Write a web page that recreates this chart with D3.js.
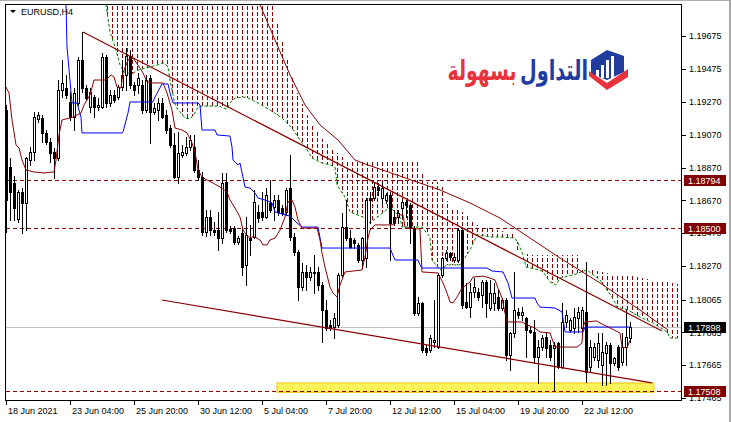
<!DOCTYPE html>
<html><head><meta charset="utf-8">
<script src="https://cdn.jsdelivr.net/npm/d3@7"></script>
<style>html,body{margin:0;padding:0;background:#fff;overflow:hidden}svg{display:block}</style>
</head><body><svg id="c" width="731" height="422"></svg>
<script>
// ---- DATA (EURUSD H4) ----
const open = [
1.19222,1.18874,1.18777,1.18557,1.18722,1.18655,1.18917,1.18966,1.19167,1.19173,
1.19082,1.19027,1.18966,1.18929,1.19344,1.19356,1.19271,1.19179,1.19265,1.19527,
1.19356,1.19240,1.19301,1.19240,1.19240,1.19545,1.19265,1.19314,1.19301,1.19362,
1.19436,1.19551,1.19375,1.19375,1.19375,1.19222,1.19417,1.19210,1.19222,1.19265,
1.19192,1.19112,1.19009,1.18813,1.18948,1.18960,1.18996,1.18996,1.18856,1.18813,
1.18478,1.18569,1.18490,1.18490,1.18441,1.18783,1.18496,1.18502,1.18417,1.18472,
1.18277,1.18441,1.18447,1.18600,1.18600,1.18569,1.18655,1.18630,1.18673,1.18624,
1.18600,1.18746,1.18447,1.18356,1.18142,1.18234,1.18203,1.18228,1.18234,1.18155,
1.18002,1.17911,1.17898,1.17911,1.18216,1.18508,1.18441,1.18429,1.18399,1.18307,
1.18319,1.18685,1.18685,1.18752,1.18685,1.18673,1.18704,1.18569,1.18569,1.18624,
1.18661,1.18643,1.18502,1.17984,1.18045,1.17770,1.17758,1.17807,1.17776,1.18216,
1.18319,1.18350,1.18307,1.18307,1.18490,1.18051,1.18020,1.18112,1.18112,1.18094,
1.18173,1.18014,1.18045,1.18081,1.18014,1.18063,1.17728,1.17862,1.17990,1.17972,
1.17953,1.17880,1.17868,1.17715,1.17776,1.17837,1.17789,1.17770,1.17801,1.17654,
1.17929,1.17880,1.17892,1.17953,1.17892,1.17990,1.17654,1.17715,1.17697,1.17667,
1.17740,1.17789,1.17679,1.17776,1.17685,1.17776,1.17831];
const high = [
1.19253,1.18929,1.18819,1.18734,1.18746,1.18935,1.18996,1.19210,1.19210,1.19192,
1.19100,1.19051,1.18990,1.19405,1.19527,1.19436,1.19332,1.19356,1.19545,1.19698,
1.19375,1.19356,1.19314,1.19295,1.19570,1.19558,1.19344,1.19344,1.19375,1.19527,
1.19600,1.19588,1.19393,1.19448,1.19405,1.19436,1.19436,1.19265,1.19295,1.19295,
1.19222,1.19131,1.19082,1.19088,1.19009,1.19057,1.19070,1.19070,1.18917,1.18844,
1.18612,1.18612,1.18539,1.18600,1.18838,1.18838,1.18514,1.18514,1.18453,1.18502,
1.18569,1.18521,1.18734,1.18643,1.18722,1.18746,1.18795,1.18704,1.18704,1.18643,
1.18746,1.18948,1.18472,1.18368,1.18289,1.18277,1.18264,1.18338,1.18264,1.18173,
1.18063,1.17941,1.17984,1.18228,1.18594,1.18673,1.18490,1.18441,1.18411,1.18447,
1.18685,1.18722,1.18777,1.18777,1.18777,1.18716,1.18722,1.18612,1.18612,1.18673,
1.18673,1.18655,1.18514,1.18081,1.18051,1.17789,1.17850,1.18063,1.18228,1.18325,
1.18368,1.18356,1.18350,1.18502,1.18502,1.18167,1.18167,1.18197,1.18136,1.18185,
1.18185,1.18185,1.18167,1.18124,1.18075,1.18075,1.17868,1.18234,1.18014,1.18020,
1.17959,1.17898,1.17941,1.17819,1.17850,1.17862,1.17819,1.17807,1.17807,1.18045,
1.18002,1.17953,1.18014,1.18020,1.18020,1.18295,1.17819,1.17801,1.17862,1.17862,
1.17807,1.17801,1.17715,1.17789,1.17862,1.18002,1.17929];
const low = [
1.18478,1.18551,1.18551,1.18539,1.18472,1.18490,1.18887,1.18917,1.19149,1.19027,
1.19015,1.18905,1.18807,1.18917,1.19301,1.19295,1.19161,1.19100,1.19253,1.19332,
1.19283,1.19210,1.19179,1.19222,1.19234,1.19240,1.19246,1.19271,1.19289,1.19344,
1.19344,1.19356,1.19314,1.19326,1.19204,1.19210,1.19021,1.19198,1.19161,1.19173,
1.19082,1.18996,1.18807,1.18777,1.18935,1.18948,1.18978,1.18844,1.18795,1.18460,
1.18453,1.18460,1.18460,1.18368,1.18411,1.18478,1.18472,1.18405,1.18405,1.18216,
1.18155,1.18338,1.18441,1.18539,1.18551,1.18563,1.18600,1.18551,1.18582,1.18582,
1.18582,1.18429,1.18338,1.18063,1.18124,1.18124,1.18185,1.18106,1.18124,1.17807,
1.17880,1.17880,1.17831,1.17898,1.18203,1.18429,1.18380,1.18380,1.18295,1.18258,
1.18264,1.18533,1.18673,1.18704,1.18643,1.18655,1.18307,1.18521,1.18533,1.18569,
1.18569,1.18411,1.17972,1.17972,1.17746,1.17728,1.17746,1.17776,1.17770,1.18203,
1.18307,1.18307,1.18295,1.18295,1.18014,1.18014,1.17959,1.18081,1.18063,1.18020,
1.17959,1.18002,1.18002,1.18002,1.18002,1.17697,1.17636,1.17837,1.17953,1.17941,
1.17715,1.17862,1.17679,1.17557,1.17758,1.17715,1.17697,1.17514,1.17648,1.17648,
1.17898,1.17868,1.17862,1.17868,1.17862,1.17563,1.17624,1.17697,1.17654,1.17545,
1.17545,1.17557,1.17667,1.17636,1.17667,1.17667,1.17807];
const close = [
1.18673,1.18722,1.18624,1.18722,1.18655,1.18929,1.18966,1.19179,1.19192,1.19082,
1.19027,1.18960,1.18929,1.19344,1.19387,1.19314,1.19179,1.19326,1.19527,1.19356,
1.19295,1.19332,1.19240,1.19253,1.19545,1.19265,1.19314,1.19283,1.19362,1.19436,
1.19551,1.19375,1.19344,1.19417,1.19222,1.19405,1.19210,1.19234,1.19265,1.19179,
1.19100,1.19009,1.18813,1.18960,1.18966,1.18996,1.19039,1.18856,1.18813,1.18478,
1.18569,1.18490,1.18478,1.18441,1.18777,1.18490,1.18484,1.18417,1.18441,1.18264,
1.18460,1.18429,1.18661,1.18563,1.18569,1.18704,1.18612,1.18673,1.18600,1.18594,
1.18734,1.18447,1.18356,1.18142,1.18234,1.18203,1.18234,1.18234,1.18155,1.18002,
1.17892,1.17892,1.17953,1.18216,1.18508,1.18441,1.18386,1.18411,1.18307,1.18441,
1.18673,1.18673,1.18752,1.18734,1.18746,1.18704,1.18533,1.18533,1.18594,1.18661,
1.18643,1.18502,1.17984,1.18045,1.17758,1.17746,1.17831,1.17819,1.18216,1.18319,
1.18350,1.18325,1.18325,1.18490,1.18033,1.18020,1.18112,1.18142,1.18081,1.18173,
1.18045,1.18106,1.18106,1.18014,1.18063,1.17728,1.17862,1.18002,1.17972,1.17990,
1.17880,1.17868,1.17715,1.17776,1.17831,1.17770,1.17715,1.17789,1.17654,1.17929,
1.17972,1.17941,1.17959,1.17990,1.18002,1.17624,1.17776,1.17776,1.17801,1.17746,
1.17789,1.17679,1.17709,1.17654,1.17776,1.17837,1.17898];

// Ichimoku lines as [bar index, price] breakpoints
const tenkan = [[0,1.19362],[0.75,1.19326],[1.5,1.19161],[2.5,1.19009],[3.25,1.18990],[4,1.18917],[5,1.18856],[7,1.18844],[9.5,1.18838],[12,1.18844],[12.5,1.18917],[13.25,1.19070],[14,1.19161],[16.75,1.19179],[18.75,1.19204],[19.5,1.19253],[21,1.19314],[22,1.19405],[25,1.19405],[26.25,1.19436],[27,1.19423],[27.75,1.19362],[28.75,1.19356],[29.25,1.19448],[30.5,1.19527],[31.75,1.19539],[33.5,1.19478],[34.25,1.19448],[35.25,1.19393],[36.5,1.19387],[39.25,1.19387],[40.25,1.19326],[41.5,1.19222],[42.25,1.19112],[44,1.19100],[45.25,1.19082],[46.5,1.19021],[47.25,1.18966],[48,1.18856],[49,1.18813],[50.25,1.18795],[51.75,1.18777],[53.5,1.18752],[55.25,1.18722],[56,1.18673],[57.25,1.18624],[58.5,1.18569],[59.25,1.18490],[60.5,1.18447],[62.25,1.18447],[63.5,1.18429],[64.25,1.18399],[65.25,1.18399],[66,1.18429],[67.25,1.18441],[68.5,1.18490],[69.75,1.18569],[70.5,1.18661],[71.5,1.18673],[72.25,1.18630],[73,1.18551],[74,1.18502],[77.75,1.18502],[78.5,1.18429],[79,1.18350],[79.75,1.18264],[81,1.18142],[81.75,1.18106],[82.75,1.18081],[83.5,1.18155],[84.25,1.18203],[84.75,1.18234],[89,1.18246],[89.75,1.18325],[90.5,1.18441],[91,1.18490],[92.25,1.18521],[96.75,1.18521],[97.75,1.18569],[98.5,1.18582],[99.25,1.18582],[99.75,1.18508],[100.25,1.18502],[103.5,1.18496],[104,1.18234],[108,1.18228],[108.5,1.18203],[109.25,1.18167],[110.25,1.18106],[111,1.18051],[111.75,1.18045],[112.75,1.18081],[114,1.18136],[116,1.18173],[116.75,1.18203],[119.25,1.18209],[121,1.18197],[122.25,1.18185],[123,1.18136],[124,1.18075],[124.75,1.17984],[125.25,1.17929],[129,1.17929],[130.25,1.17911],[132.25,1.17892],[133.5,1.17868],[136,1.17862],[137.25,1.17776],[142.75,1.17776],[144,1.17801],[144.25,1.17898],[144.75,1.17929],[147.75,1.17935],[148.5,1.17923],[153.5,1.17862],[154,1.17776],[155.25,1.17770],[156,1.17819]];
const kijun = [[0,1.20137],[14.75,1.20137],[15.25,1.19606],[16.25,1.19332],[16.5,1.19265],[17.75,1.19265],[18.25,1.19222],[18.75,1.19179],[19,1.19082],[29,1.19082],[29.25,1.19088],[30.5,1.19204],[31,1.19271],[36.75,1.19271],[37.25,1.19301],[39,1.19381],[40.5,1.19381],[41,1.19326],[41.75,1.19265],[48,1.19265],[48.5,1.19253],[49,1.19100],[52.25,1.19100],[52.75,1.19070],[56,1.19063],[56.5,1.18996],[56.75,1.18917],[57.25,1.18905],[58,1.18887],[58.5,1.18899],[59.75,1.18752],[61,1.18746],[62.25,1.18716],[63,1.18685],[64.75,1.18673],[66.5,1.18655],[67.25,1.18600],[69,1.18588],[71,1.18575],[72.75,1.18533],[74,1.18508],[78,1.18508],[79,1.18380],[96,1.18380],[96.5,1.18350],[97.25,1.18307],[103,1.18307],[103.5,1.18277],[104,1.18258],[120.25,1.18258],[121.5,1.18240],[124.25,1.18234],[125.5,1.18167],[126.5,1.18075],[132.25,1.18075],[132.75,1.18045],[133.5,1.18020],[137.25,1.18014],[139,1.17990],[139.75,1.17868],[144.25,1.17868],[144.75,1.17898],[156,1.17898]];
const cloudUpper = [[23,1.20076],[65,1.20076],[67,1.19832],[70,1.19558],[73,1.19314],[76,1.19161],[79,1.19051],[82,1.18978],[84.5,1.18929],[86,1.18905],[104,1.18905],[104.25,1.18783],[108,1.18783],[110.25,1.18716],[110.5,1.18624],[113.5,1.18612],[118,1.18521],[123,1.18490],[127.25,1.18460],[128,1.18350],[132.5,1.18338],[143.5,1.18338],[144,1.18258],[150.25,1.18228],[158.5,1.18203],[161.75,1.18185],[168.25,1.18161]];
const cloudLower = [[23,1.20076],[25,1.19863],[26,1.19698],[27.5,1.19588],[28.5,1.19497],[29.5,1.19454],[31.5,1.19442],[33,1.19466],[36,1.19484],[39.5,1.19509],[40.5,1.19484],[41,1.19405],[42,1.19283],[42.5,1.19240],[43.5,1.19210],[44.75,1.19173],[46,1.19167],[47.25,1.19204],[48,1.19240],[49,1.19246],[53.5,1.19246],[54,1.19234],[55.25,1.19228],[56,1.19265],[57.25,1.19295],[60,1.19301],[63,1.19265],[66,1.19222],[69,1.19173],[71.5,1.19112],[73.5,1.19039],[75,1.18990],[76.5,1.18929],[79,1.18899],[81,1.18887],[82.25,1.18874],[82.75,1.18765],[84.75,1.18691],[86,1.18600],[89.25,1.18569],[91,1.18533],[96,1.18630],[98.5,1.18569],[99,1.18508],[104,1.18508],[106,1.18447],[106.5,1.18307],[108.5,1.18246],[110.25,1.18277],[113.5,1.18277],[116,1.18368],[117.75,1.18460],[121.5,1.18447],[124.25,1.18447],[127.25,1.18441],[128,1.18411],[129.25,1.18338],[130,1.18264],[133.5,1.18246],[134.25,1.18234],[136,1.18173],[137.5,1.18155],[138.5,1.18197],[141.75,1.18216],[145.25,1.18246],[148.5,1.18185],[151.5,1.18081],[152.75,1.18020],[155.5,1.18002],[158.5,1.17959],[161.75,1.17923],[165.25,1.17868],[166,1.17831],[168.25,1.17831]];
const maLine = [[61,1.20015],[63,1.19893],[67.25,1.19649],[71,1.19436],[74.75,1.19253],[78.5,1.19131],[83,1.19039],[87.25,1.18917],[89.75,1.18893],[98.5,1.18819],[108.5,1.18734],[116,1.18655],[123.5,1.18563],[131,1.18441],[138.5,1.18319],[148.5,1.18167],[158.5,1.18002],[165.5,1.17880]];
const trendUpper = [[19.25,1.19698],[164,1.17874]];
const trendLower = [[39,1.18063],[161.5,1.17557]];
const zoneBars = [67.75,162];
const zonePrices = [1.17500,1.17557];
const levelPrices = [1.18794,1.18500,1.17508];
const bidPrice = 1.17898;
const priceTicks = [1.19675,1.19475,1.19270,1.19070,1.18870,1.18670,1.18470,1.18270,1.18065,1.17865,1.17665,1.17465];
const timeTickIdx = [0,16,32,48,64,80,96,112,128,144];
const timeTickLabels = ["18 Jun 2021","23 Jun 04:00","25 Jun 20:00","30 Jun 12:00","5 Jul 04:00","7 Jul 20:00","12 Jul 12:00","15 Jul 04:00","19 Jul 20:00","22 Jul 12:00"];

// ---- DRAW ----
const svg = d3.select("#c");
const RED = "#8b0000";
const FONT = "Liberation Sans, Arial, sans-serif";
const x = d3.scaleLinear().domain([0,156]).range([6,630]);
const y = d3.scaleLinear().domain([1.173188,1.19893]).range([422,0]);
const crisp = v => Math.round(v)+0.5;

svg.append("rect").attr("width",731).attr("height",422).attr("fill","#fff");
const defs = svg.append("defs");
defs.append("clipPath").attr("id","plot").append("rect").attr("x",6).attr("y",5).attr("width",675).attr("height",395);
const pat = defs.append("pattern").attr("id","hatch").attr("width",5).attr("height",6).attr("patternUnits","userSpaceOnUse");
pat.append("rect").attr("x",2).attr("y",0).attr("width",1).attr("height",4).attr("fill",RED);

const g = svg.append("g").attr("clip-path","url(#plot)");
const line = d3.line().x(d=>x(d[0])).y(d=>y(d[1]));

// cloud
g.append("path").attr("d", line(cloudUpper.concat(cloudLower.slice().reverse()))+"Z")
  .attr("fill","url(#hatch)").attr("stroke","none").attr("shape-rendering","crispEdges");
g.append("path").attr("d", line(cloudLower)).attr("fill","none").attr("stroke","#008000").attr("stroke-width",1).attr("stroke-dasharray","3,2");

// yellow zone
g.append("rect").attr("x",x(zoneBars[0])).attr("width",x(zoneBars[1])-x(zoneBars[0]))
  .attr("y",y(zonePrices[1])).attr("height",y(zonePrices[0])-y(zonePrices[1]))
  .attr("fill","#fff35a").attr("stroke","#f2c40f").attr("stroke-width",1);

// bid line
g.append("line").attr("x1",6).attr("x2",681).attr("y1",crisp(y(bidPrice))).attr("y2",crisp(y(bidPrice))).attr("stroke","#c0c0c0");
// level lines
g.selectAll("line.lvl").data(levelPrices).join("line").attr("class","lvl")
  .attr("x1",6).attr("x2",681).attr("y1",d=>crisp(y(d))).attr("y2",d=>crisp(y(d)))
  .attr("stroke",RED).attr("stroke-width",1).attr("stroke-dasharray","4,3");

// candles
const idx = d3.range(open.length);
g.selectAll("line.wick").data(idx).join("line").attr("class","wick")
  .attr("x1",i=>Math.round(x(i))+0.5).attr("x2",i=>Math.round(x(i))+0.5)
  .attr("y1",i=>Math.round(y(high[i]))).attr("y2",i=>Math.round(y(low[i]))+1)
  .attr("stroke","#000").attr("stroke-width",1);
g.selectAll("rect.body").data(idx).join("rect").attr("class","body")
  .attr("x",i=>Math.round(x(i))-0.5).attr("width",2)
  .attr("y",i=>crisp(y(Math.max(open[i],close[i]))))
  .attr("height",i=>Math.max(1, Math.round(y(Math.min(open[i],close[i])))-Math.round(y(Math.max(open[i],close[i])))))
  .attr("fill",i=>close[i]>=open[i]?"#fff":"#000").attr("stroke","#000").attr("stroke-width",1);

// indicator lines
g.append("path").attr("d",line(maLine)).attr("fill","none").attr("stroke",RED).attr("stroke-width",1);
g.append("path").attr("d",line(trendUpper)).attr("fill","none").attr("stroke",RED).attr("stroke-width",1.2);
g.append("path").attr("d",line(trendLower)).attr("fill","none").attr("stroke",RED).attr("stroke-width",1.2);
g.append("path").attr("d",line(kijun)).attr("fill","none").attr("stroke","#0000ff").attr("stroke-width",1);
g.append("path").attr("d",line(tenkan)).attr("fill","none").attr("stroke",RED).attr("stroke-width",1);

// frame
svg.append("rect").attr("x",5.5).attr("y",4.5).attr("width",676).attr("height",396).attr("fill","none").attr("stroke","#000");
svg.append("line").attr("x1",0).attr("x2",731).attr("y1",0.5).attr("y2",0.5).attr("stroke","#b0b0b0");
svg.append("rect").attr("x",729).attr("y",0).attr("width",2).attr("height",422).attr("fill","#a8a8a8");

// price axis
svg.selectAll("line.pt").data(priceTicks).join("line").attr("class","pt")
  .attr("x1",682).attr("x2",686).attr("y1",d=>crisp(y(d))).attr("y2",d=>crisp(y(d))).attr("stroke","#000");
svg.selectAll("text.pl").data(priceTicks).join("text").attr("class","pl")
  .attr("x",689).attr("y",d=>y(d)).attr("dy","0.35em").attr("font-family",FONT).attr("font-size",9)
  .attr("fill","#000").text(d=>d.toFixed(5));
const tags = levelPrices.map(p=>({p,c:"#800000"})).concat([{p:bidPrice,c:"#000"}]);
svg.selectAll("rect.tag").data(tags).join("rect").attr("class","tag")
  .attr("x",684).attr("width",42).attr("y",d=>Math.round(y(d.p))-5).attr("height",11).attr("fill",d=>d.c);
svg.selectAll("text.tagt").data(tags).join("text").attr("class","tagt")
  .attr("x",688).attr("y",d=>Math.round(y(d.p))+0.5).attr("dy","0.35em").attr("font-family",FONT).attr("font-size",9)
  .attr("fill","#fff").text(d=>d.p.toFixed(5));

// time axis
svg.selectAll("line.tt").data(timeTickIdx).join("line").attr("class","tt")
  .attr("x1",i=>Math.round(x(i))+0.5).attr("x2",i=>Math.round(x(i))+0.5).attr("y1",401).attr("y2",405).attr("stroke","#000");
svg.selectAll("text.tl").data(timeTickIdx).join("text").attr("class","tl")
  .attr("x",i=>Math.round(x(i))+2).attr("y",414).attr("font-family",FONT).attr("font-size",9)
  .attr("fill","#000").text((d,k)=>timeTickLabels[k]);

// title
svg.append("path").attr("d","M10,10 L16,10 L13,13 Z").attr("fill","#000");
svg.append("text").attr("x",21).attr("y",15).attr("font-family",FONT).attr("font-size",9).attr("fill","#000").text("EURUSD,H4");

// logo
const logo = svg.append("g");
logo.append("text").attr("x",554).attr("y",80).attr("text-anchor","middle").attr("font-family","DejaVu Sans").attr("font-weight","bold")
  .attr("font-size",28).attr("fill","#1f3c9e").attr("textLength",68).attr("lengthAdjust","spacingAndGlyphs").text("التداول");
logo.append("text").attr("x",482).attr("y",80).attr("text-anchor","middle").attr("font-family","DejaVu Sans").attr("font-weight","bold")
  .attr("font-size",28).attr("fill","#e8323c").attr("textLength",69).attr("lengthAdjust","spacingAndGlyphs").text("بسهولة");
logo.append("path").attr("d","M591,60 L607,50 L624,56 L624,72 L607,80 L591,74 Z").attr("fill","#1f3c9e");
[[596,70],[601,65],[606,60],[611,56]].forEach(([bx,by])=>{
  logo.append("rect").attr("x",bx).attr("y",by).attr("width",3).attr("height",78-by).attr("fill","#fff");
});
logo.append("path").attr("d","M589,76 L607,90 L628,77 L628,69 L607,83 L589,71 Z").attr("fill","#e8323c");
</script></body></html>
